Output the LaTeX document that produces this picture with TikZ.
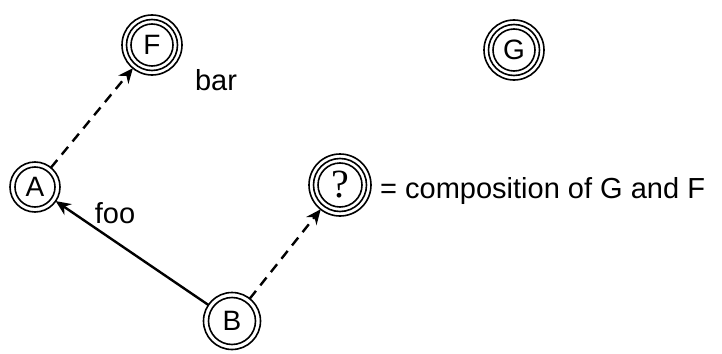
\documentclass[tikz,border=0pt]{standalone}
\usepackage{fontspec}
\setmainfont{Liberation Sans}
\newfontfamily\qserif{Liberation Serif}
\usetikzlibrary{arrows.meta}
\begin{document}
\begin{tikzpicture}[x=1pt,y=-1pt,
  lbl/.style={font=\fontsize{29}{31}\selectfont, inner sep=0pt},
  dstate/.style={circle, draw, line width=1.6pt, minimum size=#1, inner sep=0pt, outer sep=0pt,
    font=\fontsize{28}{30}\selectfont,
    path picture={\draw[line width=1.6pt] (path picture bounding box.center) circle[radius=#1/2-5pt];}},
  tstate/.style={circle, draw, line width=1.6pt, minimum size=#1, inner sep=0pt, outer sep=0pt,
    font=\fontsize{28}{30}\selectfont,
    path picture={\draw[line width=1.6pt] (path picture bounding box.center) circle[radius=#1/2-4.5pt];
                  \draw[line width=1.6pt] (path picture bounding box.center) circle[radius=#1/2-9pt];}},
  arr/.style={line width=2.4pt, -{Stealth[length=15pt,width=13pt]}},
  darr/.style={arr, dash pattern=on 10pt off 7pt}]
\useasboundingbox (0,0) rectangle (722,353);
\node[tstate=60pt] (F) at (152,45) {F};
\node[tstate=60pt] (G) at (514,50) {G};
\node[dstate=50pt] (A) at (35,187) {A};
\node[tstate=62pt, font=\qserif\fontsize{40}{40}\selectfont] (Q) at (340,185) {?};
\node[dstate=57pt] (B) at (232,321) {B};
\draw[darr] (A) -- (F);
\draw[arr] (B) -- (A);
\draw[darr] (B) -- (Q);
\node[lbl] (bar) at (216,80) {bar};
\node[lbl] (foo) at (115,213) {foo};
\node[lbl, anchor=west] (comp) at (380,191) {= composition of G and F};
\end{tikzpicture}
\end{document}
